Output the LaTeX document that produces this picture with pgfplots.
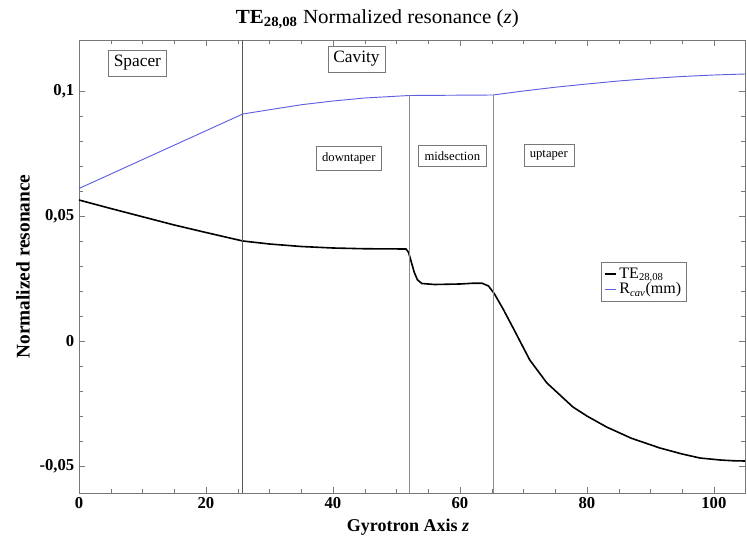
\documentclass[border=0pt]{standalone}
\usepackage{fontspec}
\setmainfont{Liberation Serif}
\usepackage{graphicx}
\usepackage{pgfplots}
\pgfplotsset{compat=1.18}
\definecolor{bluel}{RGB}{95,95,225}
\definecolor{axgray}{RGB}{120,120,120}
\begin{document}
\begin{tikzpicture}
\begin{axis}[
  scale only axis,
  width=499.5pt, height=339.75pt,
  xmin=0, xmax=104.9, ymin=-0.0608, ymax=0.1204,
  axis line style={axgray},
  tick style={axgray},
  xtick={0,20,40,60,80,100},
  xticklabels={\textbf{0},\textbf{20},\textbf{40},\textbf{60},\textbf{80},\textbf{100}},
  minor x tick num=3,
  ytick={-0.05,0,0.05,0.1},
  yticklabels={\textbf{-0,05},\textbf{0},\textbf{0,05},\textbf{0,1}},
  minor y tick num=4,
  ticklabel style={font=\fontsize{12.5}{14}\selectfont},
  title={\scalebox{1.05}[1]{\textbf{TE\textsubscript{28,08}} Normalized resonance (\textit{z})}},
  title style={font=\fontsize{15}{17}\selectfont, at={(0.448,1)}, anchor=center, yshift=9.75pt},
  xlabel={\textbf{Gyrotron Axis \textit{z}}},
  ylabel={\textbf{Normalized resonance}},
  xlabel style={font=\fontsize{13.5}{15}\selectfont, at={(0.494,0)}, anchor=center, yshift=-25.5pt},
  ylabel style={font=\fontsize{14.5}{16}\selectfont, yshift=0.5pt},
  legend style={at={(axis cs:82.2,0.0316)}, anchor=north west, draw=axgray, font=\fontsize{12}{13}\selectfont, inner sep=2pt, row sep=-2pt},
  legend cell align=left,
  legend image post style={xscale=0.5},
  clip=false,
]
\addplot[black, line width=1.2pt] coordinates {
(0,0.0564) (5,0.0530) (10,0.0497) (15,0.0464) (20,0.0434) (25.8,0.0400)
(30,0.0388) (35,0.0378) (40,0.0372) (45,0.0369) (51.5,0.0368)
(51.9,0.0355) (52.3,0.0320) (52.8,0.0275) (53.3,0.0245) (54,0.0230)
(56,0.0226) (60,0.0228) (62,0.0231) (63.5,0.0231) (64.5,0.0220)
(65.4,0.0190) (66.8,0.0128) (68.3,0.0056) (71,-0.0076) (73.7,-0.0168)
(77.8,-0.0264) (80,-0.0300) (83.1,-0.0344) (87,-0.0389) (91.5,-0.0428)
(95,-0.0452) (97.8,-0.0468) (101,-0.0476) (103,-0.0479) (104.9,-0.0480)
};
\addlegendentry{TE\textsubscript{28,08}}
\addplot[bluel, line width=0.7pt] coordinates {
(0,0.0610) (25.8,0.0908) (30,0.0925) (35,0.0945) (40,0.0960) (45,0.0972)
(52,0.0982) (65.2,0.0984) (70,0.1000) (75,0.1015) (80,0.1028) (85,0.1040)
(90,0.1050) (95,0.1058) (100,0.1064) (104.9,0.1068)
};
\addlegendentry{R\textsubscript{\textit{cav}}(mm)}
\draw[black!65, line width=0.6pt] (axis cs:25.8,-0.0608) -- (axis cs:25.8,0.1204);
\draw[black!45, line width=0.6pt] (axis cs:52.0,-0.0608) -- (axis cs:52.0,0.0982);
\draw[black!45, line width=0.6pt] (axis cs:65.2,-0.0608) -- (axis cs:65.2,0.0984);
\node[draw=axgray, font=\fontsize{13}{15}\selectfont, inner sep=4pt] at (axis cs:9.2,0.1112) {Spacer};
\node[draw=axgray, font=\fontsize{13}{15}\selectfont, inner sep=4pt] at (axis cs:43.7,0.1128) {Cavity};
\node[draw=axgray, font=\fontsize{9.5}{10}\selectfont, inner sep=4.5pt] at (axis cs:42.5,0.0730) {downtaper};
\node[draw=axgray, font=\fontsize{9.5}{10}\selectfont, inner sep=4.5pt] at (axis cs:58.8,0.0740) {midsection};
\node[draw=axgray, font=\fontsize{9.5}{10}\selectfont, inner sep=4.5pt] at (axis cs:74.0,0.0742) {uptaper};
\end{axis}
\pgfresetboundingbox
\path ([shift={(-59.25pt,-35.25pt)}]current axis.south west) rectangle ([shift={(1.5pt,30pt)}]current axis.north east);
\end{tikzpicture}
\end{document}
